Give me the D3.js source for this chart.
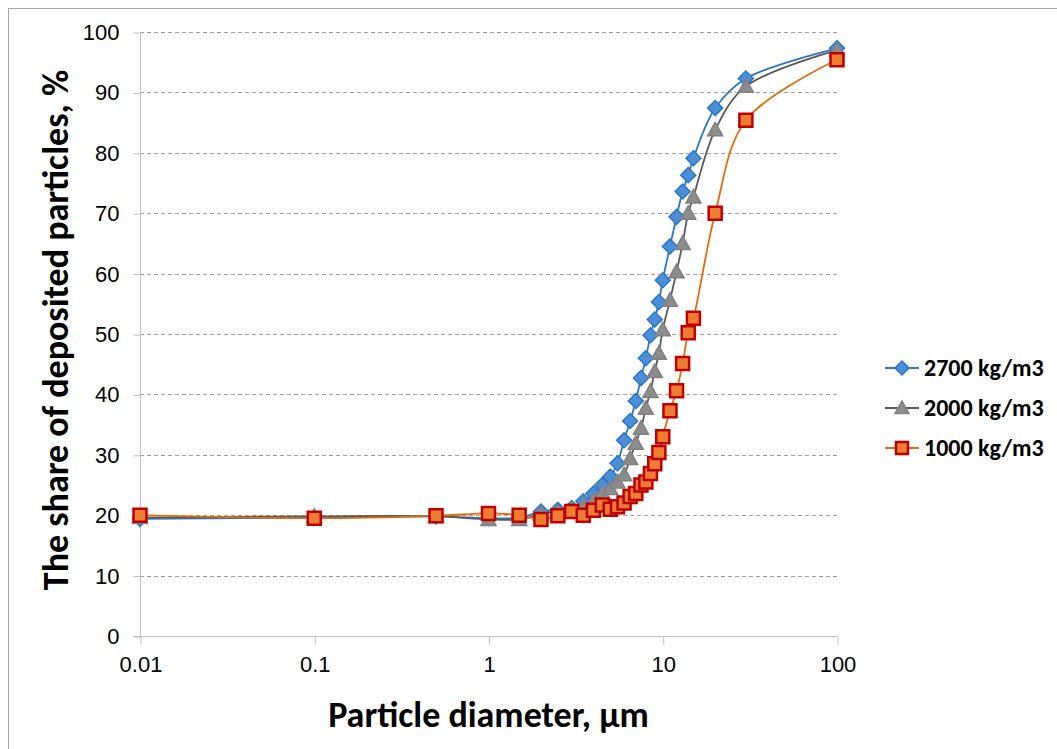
<!DOCTYPE html>
<html>
<head>
<meta charset="utf-8">
<script src="https://cdn.jsdelivr.net/npm/d3@7"></script>
<style>
  body { margin: 0; background: #fff; }
  svg { font-family: Carlito, Calibri, 'Open Sans', sans-serif; }
</style>
</head>
<body>
<div id="chart"></div>
<script>
const diameters = [0.01, 0.1, 0.5, 1, 1.5, 2, 2.5, 3, 3.5, 4, 4.5, 5, 5.5, 6, 6.5, 7, 7.5, 8, 8.5, 9, 9.5, 10, 11, 12, 13, 14, 15, 20, 30, 100];
const share2700 = [19.4, 19.6, 19.8, 19.5, 19.6, 20.6, 20.9, 21.2, 22.3, 23.6, 25.0, 26.4, 28.6, 32.4, 35.6, 38.9, 42.7, 46.0, 49.8, 52.4, 55.3, 58.9, 64.5, 69.4, 73.6, 76.3, 79.1, 87.4, 92.3, 97.3];
const share2000 = [19.6, 19.8, 19.8, 19.3, 19.3, 20.2, 20.6, 21.0, 21.6, 22.5, 23.7, 24.4, 25.5, 26.7, 29.4, 31.9, 34.4, 37.7, 40.5, 43.8, 46.8, 50.7, 55.6, 60.3, 65.0, 70.0, 72.7, 83.8, 91.0, 97.0];
const share1000 = [20.0, 19.5, 19.9, 20.3, 20.0, 19.3, 19.9, 20.6, 20.0, 20.8, 21.7, 21.0, 21.4, 22.0, 23.1, 23.6, 25.0, 25.5, 26.9, 28.5, 30.4, 33.0, 37.3, 40.6, 45.1, 50.2, 52.6, 70.0, 85.4, 95.4];
const seriesNames = ['2700 kg/m3', '2000 kg/m3', '1000 kg/m3'];
const xTicks = [0.01, 0.1, 1, 10, 100];
const yTicks = [0, 10, 20, 30, 40, 50, 60, 70, 80, 90, 100];

const width = 1057, height = 749;
const margin = { top: 32, right: 220, bottom: 113, left: 140 };

// excel-like marker shapes, r = half size
const diamond = r => 'M0,' + (-r) + 'L' + r + ',0L0,' + r + 'L' + (-r) + ',0Z';
const triangle = r => 'M0,' + (-r) + 'L' + r + ',' + (r * 0.8) + 'L' + (-r) + ',' + (r * 0.8) + 'Z';
const square = r => 'M' + (-r) + ',' + (-r) + 'H' + r + 'V' + r + 'H' + (-r) + 'Z';

const series = [
    { name: seriesNames[0], values: share2700, line: '#2E75C6', fill: '#4A90D9', stroke: '#2E75C6', shape: diamond, r: 7.5, sw: 1.5 },
    { name: seriesNames[1], values: share2000, line: '#595959', fill: '#8C8C8C', stroke: '#808080', shape: triangle, r: 7.5, sw: 1.5 },
    { name: seriesNames[2], values: share1000, line: '#E36C0A', fill: '#ED7D31', stroke: '#C00000', shape: square, r: 6.5, sw: 2.5 }
];

const svg = d3.select('#chart').append('svg')
    .attr('width', width)
    .attr('height', height);

// outer chart border
svg.append('rect')
    .attr('x', 8.5).attr('y', 8.5)
    .attr('width', width + 10).attr('height', height + 10)
    .attr('fill', 'none')
    .attr('stroke', '#a6a6a6');

const x = d3.scaleLog()
    .domain([0.01, 100])
    .range([margin.left, width - margin.right]);

const y = d3.scaleLinear()
    .domain([0, 100])
    .range([height - margin.bottom, margin.top]);

// gridlines
svg.append('g')
    .selectAll('line')
    .data(yTicks.filter(d => d > 0))
    .join('line')
    .attr('x1', margin.left).attr('x2', width - margin.right)
    .attr('y1', d => Math.round(y(d)) + 0.5).attr('y2', d => Math.round(y(d)) + 0.5)
    .attr('stroke', '#a0a0a0')
    .attr('stroke-dasharray', '4,3');

// y axis
const yAxis = svg.append('g')
    .attr('transform', 'translate(' + (margin.left + 0.5) + ',0.5)')
    .call(d3.axisLeft(y).tickValues(yTicks).tickSize(7).tickPadding(14).tickFormat(d3.format('d')));
yAxis.select('.domain').attr('stroke', '#bfbfbf').attr('d', 'M0,' + y(100) + 'V' + y(0));
yAxis.selectAll('.tick line').attr('stroke', '#bfbfbf');
yAxis.selectAll('.tick text').attr('font-size', 22).attr('fill', '#000');

// x axis
const xAxis = svg.append('g')
    .attr('transform', 'translate(0.5,' + (height - margin.bottom + 0.5) + ')')
    .call(d3.axisBottom(x).tickValues(xTicks).tickSize(8).tickPadding(12).tickFormat(d => String(d)));
xAxis.select('.domain').attr('stroke', '#bfbfbf').attr('d', 'M' + (margin.left - 7) + ',0H' + (width - margin.right));
xAxis.selectAll('.tick line').attr('stroke', '#bfbfbf');
xAxis.selectAll('.tick text').attr('font-size', 22).attr('fill', '#000');

// axis titles
svg.append('text')
    .attr('x', (margin.left + width - margin.right) / 2)
    .attr('y', 727)
    .attr('text-anchor', 'middle')
    .attr('font-size', 36)
    .attr('font-weight', 'bold')
    .text('Particle diameter, µm');

svg.append('text')
    .attr('transform', 'translate(68,' + ((margin.top + height - margin.bottom) / 2 - 4) + ') rotate(-90)')
    .attr('text-anchor', 'middle')
    .attr('font-size', 36)
    .attr('font-weight', 'bold')
    .text('The share of deposited particles, %');

// lines and markers
const line = d3.line()
    .curve(d3.curveCatmullRom.alpha(0.5))
    .x(d => x(d[0]))
    .y(d => y(d[1]));

series.forEach(s => {
    const pts = diameters.map((d, i) => [d, s.values[i]]);
    svg.append('path')
        .datum(pts)
        .attr('fill', 'none')
        .attr('stroke', s.line)
        .attr('stroke-width', 1.8)
        .attr('d', line);
});

series.forEach(s => {
    const pts = diameters.map((d, i) => [d, s.values[i]]);
    svg.append('g')
        .selectAll('path')
        .data(pts)
        .join('path')
        .attr('transform', d => 'translate(' + x(d[0]) + ',' + y(d[1]) + ')')
        .attr('d', s.shape(s.r))
        .attr('fill', s.fill)
        .attr('stroke', s.stroke)
        .attr('stroke-width', s.sw);
});

// legend
const legend = svg.append('g')
    .attr('transform', 'translate(885,368)');
const items = legend.selectAll('g')
    .data(series)
    .join('g')
    .attr('transform', (d, i) => 'translate(0,' + i * 40 + ')');
items.append('line')
    .attr('x1', 0).attr('x2', 34)
    .attr('stroke', d => d.line)
    .attr('stroke-width', 1.8);
items.append('path')
    .attr('transform', 'translate(17,0)')
    .attr('d', d => d.shape(d.r - 0.5))
    .attr('fill', d => d.fill)
    .attr('stroke', d => d.stroke)
    .attr('stroke-width', d => d.sw);
items.append('text')
    .attr('x', 39)
    .attr('dy', '0.35em')
    .attr('font-size', 24)
    .attr('font-weight', 'bold')
    .text(d => d.name);
</script>
</body>
</html>
